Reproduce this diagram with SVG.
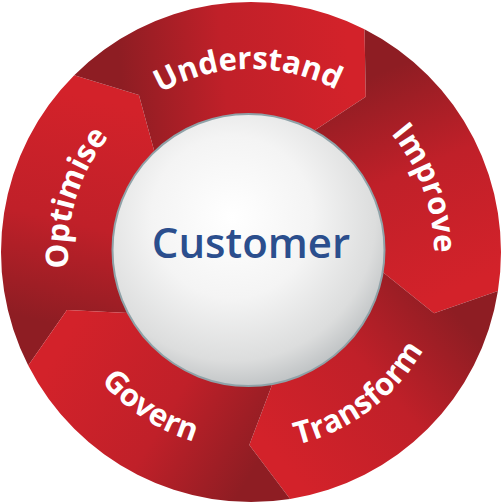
<svg xmlns="http://www.w3.org/2000/svg" width="504" height="504" viewBox="0 0 504 504">
<style>
.lbl{font-family:"Open Sans","Liberation Sans",sans-serif;font-weight:700;font-size:31px;fill:#ffffff;}
.cust{font-family:"Open Sans","Liberation Sans",sans-serif;font-weight:600;font-size:42px;fill:#2b4e8d;}
</style>
<defs>
<linearGradient id="gOpt" gradientUnits="userSpaceOnUse" x1="71.5" y1="328.2" x2="123.1" y2="104.8">
<stop offset="0" stop-color="#8e1d23"/><stop offset="0.45" stop-color="#c02029"/><stop offset="1" stop-color="#d3222a"/></linearGradient>
<linearGradient id="gUnd" gradientUnits="userSpaceOnUse" x1="123.1" y1="104.8" x2="351.4" y2="84.8">
<stop offset="0" stop-color="#8e1d23"/><stop offset="0.45" stop-color="#c02029"/><stop offset="1" stop-color="#d3222a"/></linearGradient>
<linearGradient id="gImp" gradientUnits="userSpaceOnUse" x1="351.4" y1="84.8" x2="441" y2="295.9">
<stop offset="0" stop-color="#8e1d23"/><stop offset="0.45" stop-color="#c02029"/><stop offset="1" stop-color="#d3222a"/></linearGradient>
<linearGradient id="gTra" gradientUnits="userSpaceOnUse" x1="441" y1="295.9" x2="268" y2="446.3">
<stop offset="0" stop-color="#8e1d23"/><stop offset="0.45" stop-color="#c02029"/><stop offset="1" stop-color="#d3222a"/></linearGradient>
<linearGradient id="gGov" gradientUnits="userSpaceOnUse" x1="268" y1="446.3" x2="71.5" y2="328.2">
<stop offset="0" stop-color="#8e1d23"/><stop offset="0.45" stop-color="#c02029"/><stop offset="1" stop-color="#d3222a"/></linearGradient>
<radialGradient id="gSphere" cx="0.44" cy="0.38" r="0.66">
<stop offset="0" stop-color="#ffffff"/><stop offset="0.45" stop-color="#f4f4f4"/><stop offset="0.8" stop-color="#dcdddd"/><stop offset="1" stop-color="#b8bcbe"/></radialGradient>
<path id="pUnd" d="M 70.25 223.37 A 183 183 0 0 1 430.64 217.08"/>
<path id="pImp" d="M 219.22 71.78 A 183 183 0 0 1 342.5 410.48"/>
<path id="pOpt" d="M 167.92 415.05 A 183 183 0 0 1 273.3 70.36"/>
<path id="pTra" d="M 115.96 396.81 A 198 198 0 0 0 427.42 162.11"/>
<path id="pGov" d="M 68.74 174.64 A 198 198 0 0 0 395.81 387.04"/>
</defs>
<g id="optimise">
<path fill="url(#gOpt)" d="M 28.25 365.5 A 250 250 0 0 1 74.22 75.22 L 138.92 94.88 L 157.64 163.4 A 128.7 128.7 0 0 0 137.9 313.42 L 66.93 310.03 Z"/>
<text class="lbl"><textPath href="#pOpt" startOffset="50%" text-anchor="middle">Optimise</textPath></text>
</g>
<g id="understand">
<path fill="url(#gUnd)" d="M 74.22 75.22 A 250 250 0 0 1 364.5 29.25 L 365.8 96.85 L 306.41 135.84 A 128.7 128.7 0 0 0 157.64 163.4 L 138.92 94.88 Z"/>
<text class="lbl"><textPath href="#pUnd" startOffset="50%" text-anchor="middle">Understand</textPath></text>
</g>
<g id="improve">
<path fill="url(#gImp)" d="M 364.5 29.25 A 250 250 0 0 1 497.92 291.11 L 434.03 313.24 L 378.6 268.8 A 128.7 128.7 0 0 0 306.41 135.84 L 365.8 96.85 Z"/>
<text class="lbl"><textPath href="#pImp" startOffset="50%" text-anchor="middle">Improve</textPath></text>
</g>
<g id="transform">
<path fill="url(#gTra)" d="M 497.92 291.11 A 250 250 0 0 1 290.11 498.92 L 249.32 444.99 L 274.45 378.55 A 128.7 128.7 0 0 0 378.6 268.8 L 434.03 313.24 Z"/>
<text class="lbl"><textPath href="#pTra" startOffset="50%" text-anchor="middle">Transform</textPath></text>
</g>
<g id="govern">
<path fill="url(#gGov)" d="M 290.11 498.92 A 250 250 0 0 1 28.25 365.5 L 66.93 310.03 L 137.9 313.42 A 128.7 128.7 0 0 0 274.45 378.55 L 249.32 444.99 Z"/>
<text class="lbl"><textPath href="#pGov" startOffset="50%" text-anchor="middle">Govern</textPath></text>
</g>
<g id="customer">
<circle cx="248.5" cy="250" r="136" fill="url(#gSphere)" stroke="#8fa2a8" stroke-width="2"/>
<text class="cust" x="251" y="258" text-anchor="middle">Customer</text>
</g>
<g id="connectors"/>
</svg>
